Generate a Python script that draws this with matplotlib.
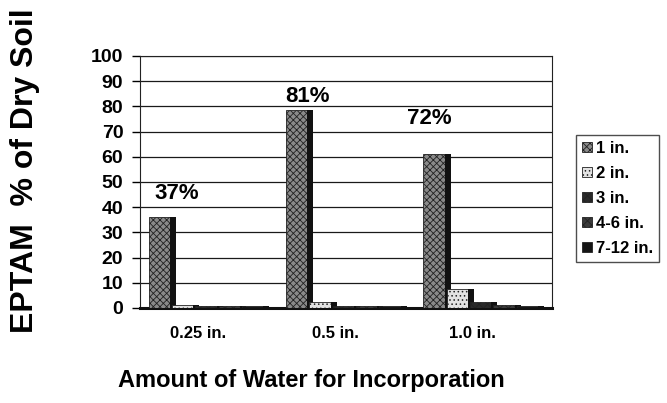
import matplotlib
matplotlib.use("Agg")
import matplotlib.pyplot as plt
import numpy as np

plt.rcParams['font.family'] = ['Liberation Sans', 'DejaVu Sans']
plt.rcParams['hatch.linewidth'] = 0.6

categories = ["0.25 in.", "0.5 in.", "1.0 in."]
series_names = ["1 in.", "2 in.", "3 in.", "4-6 in.", "7-12 in."]
values_1in = [36, 78.5, 61]
values_2in = [1.0, 2.5, 7.5]
values_3in = [0.9, 0.9, 2.5]
values_46in = [0.9, 0.9, 1.0]
values_712in = [0.9, 0.9, 0.9]
peak_labels = ["37%", "81%", "72%"]
yticks = list(range(0, 101, 10))

series_values = [values_1in, values_2in, values_3in, values_46in, values_712in]
faces = ["#8a8a8a", "#e2e2e2", "#2a2a2a", "#3a3a3a", "#151515"]
hatches = ["xxxxx", "....", "xxxx", "xxxx", ""]

fig = plt.figure(figsize=(6.67, 4.03), dpi=100)
ax = fig.add_axes([140 / 667, 1 - 308 / 403, 412 / 667, 252 / 403])

x = np.arange(len(categories))
slot = 0.17
face_w = 0.155
side_w = 0.045
for i, (name, vals) in enumerate(zip(series_names, series_values)):
    pos = x - 0.36 + i * slot
    ax.bar(pos, vals, width=face_w, color=faces[i], hatch=hatches[i],
           edgecolor="#222222", linewidth=0.6, label=name, zorder=3)
    # dark side for a 3-D look
    ax.bar(pos + face_w / 2 + side_w / 2, vals, width=side_w, color="#111111",
           linewidth=0, zorder=3)

label_y = [45.5, 84, 75]
label_dx = [-0.23, -0.28, -0.39]
for xi, ly, dx, lab in zip(x, label_y, label_dx, peak_labels):
    ax.text(xi + dx, ly, lab, ha="center", va="center",
            fontsize=16, fontweight="bold")

ax.set_xlim(-0.5, len(categories) - 0.5)
ax.set_ylim(0, 100)
ax.set_yticks(yticks)
ax.set_xticks(x - 0.08)
ax.set_xticklabels(categories, fontsize=12, fontweight="bold")
for lab in ax.get_yticklabels():
    lab.set_fontsize(14)
    lab.set_fontweight("bold")
ax.grid(axis="y", color="#1a1a1a", linewidth=0.9, zorder=0)
for s in ax.spines.values():
    s.set_color("#222222")
ax.spines["bottom"].set_linewidth(2.2)
ax.spines["bottom"].set_color("#111111")
ax.tick_params(axis="x", length=0, pad=13)
ax.tick_params(axis="y", length=6, pad=6, width=1)

ax.set_ylabel("EPTAM  % of Dry Soil", fontsize=23, fontweight="bold")
ax.yaxis.set_label_coords(-0.243, 0.544)
fig.text(311 / 667, 1 - 380 / 403, "Amount of Water for Incorporation",
         ha="center", va="center", fontsize=17, fontweight="bold")

leg = fig.legend(loc="upper left", bbox_to_anchor=(576 / 667, 1 - 135 / 403),
                 frameon=True, fancybox=False, edgecolor="#222222", fontsize=12,
                 handlelength=0.6, handleheight=0.6, handletextpad=0.25,
                 borderpad=0.35, labelspacing=0.6, borderaxespad=0)
for t in leg.get_texts():
    t.set_fontweight("bold")

fig.savefig("out.png", dpi=100)
